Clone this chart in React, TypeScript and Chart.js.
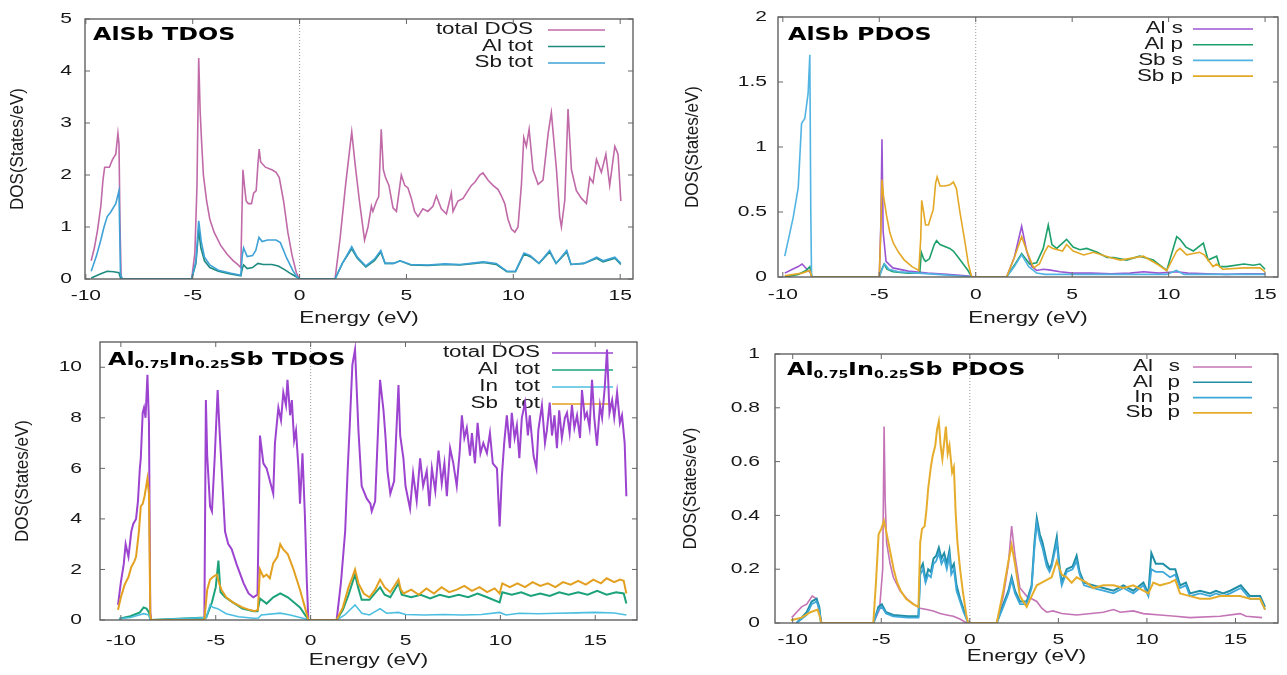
import React, { useEffect, useRef } from 'react';
import { Chart, registerables } from 'chart.js';
Chart.register(...registerables);

type Pt = [number, number];

// ---------------- tick values ----------------
const xTicks = [-10, -5, 0, 5, 10, 15];
const yTicksTdosAlSb = [0, 1, 2, 3, 4, 5];
const yTicksPdosAlSb = [0, 0.5, 1, 1.5, 2];
const yTicksTdosAlInSb = [0, 2, 4, 6, 8, 10];
const yTicksPdosAlInSb = [0, 0.2, 0.4, 0.6, 0.8, 1];

// ---------------- legend labels ----------------
const legendTdosAlSb = ['total DOS', 'Al tot', 'Sb tot'];
const legendPdosAlSb = ['Al s', 'Al p', 'Sb s', 'Sb p'];
const legendTdosAlInSb: [string, string][] = [['total DOS', ''], ['Al', 'tot'], ['In', 'tot'], ['Sb', 'tot']];
const legendPdosAlInSb: [string, string][] = [['Al', 's'], ['Al', 'p'], ['In', 'p'], ['Sb', 'p']];

// ---------------- AlSb TDOS ----------------
const alsbTotal: Pt[] = [
  [-9.75, 0.35], [-9.6, 0.6], [-9.45, 0.95], [-9.3, 1.4], [-9.2, 1.9], [-9.12, 2.15], [-8.9, 2.15], [-8.75, 2.3], [-8.6, 2.4], [-8.5, 2.8], [-8.45, 2.6], [-8.4, 1.0], [-8.35, 0.05], [-8.3, 0],
  [-5.05, 0], [-4.9, 0.5], [-4.8, 1.8], [-4.72, 4.25], [-4.65, 3.2], [-4.58, 2.6], [-4.5, 2.0], [-4.35, 1.5], [-4.2, 1.15], [-4.0, 0.9], [-3.7, 0.65], [-3.4, 0.48], [-3.1, 0.35], [-2.9, 0.28], [-2.75, 0.22], [-2.7, 1.2], [-2.65, 2.1], [-2.58, 1.8], [-2.5, 1.5], [-2.4, 1.45], [-2.25, 1.45], [-2.15, 1.65], [-2.03, 1.7], [-1.95, 2.2], [-1.89, 2.5], [-1.82, 2.25], [-1.6, 2.15], [-1.3, 2.1], [-1.1, 2.05], [-0.95, 1.95], [-0.75, 1.5], [-0.55, 0.9], [-0.35, 0.45], [-0.15, 0.12], [0, 0],
  [1.66, 0], [1.9, 0.8], [2.15, 1.8], [2.44, 2.83], [2.6, 2.2], [2.8, 1.5], [3.04, 0.75], [3.2, 1.0], [3.36, 1.4], [3.43, 1.3], [3.6, 1.5], [3.7, 1.58], [3.82, 2.88], [3.92, 2.1], [4.02, 1.95], [4.18, 1.8], [4.37, 1.37], [4.53, 1.3], [4.76, 2.0], [4.92, 1.8], [5.07, 1.75], [5.23, 1.55], [5.38, 1.3], [5.54, 1.2], [5.77, 1.35], [6.0, 1.3], [6.24, 1.4], [6.4, 1.6], [6.63, 1.35], [6.87, 1.25], [7.1, 1.65], [7.18, 1.3], [7.41, 1.5], [7.65, 1.55], [7.88, 1.7], [8.04, 1.8], [8.2, 1.86], [8.43, 2.0], [8.58, 2.04], [8.82, 1.9], [9.05, 1.8], [9.29, 1.72], [9.44, 1.6], [9.6, 1.45], [9.75, 1.15], [9.91, 0.96], [10.07, 0.9], [10.22, 1.0], [10.38, 1.82], [10.49, 2.72], [10.61, 2.55], [10.74, 2.88], [10.92, 2.1], [11.16, 1.82], [11.39, 1.9], [11.63, 2.8], [11.78, 3.2], [12.02, 2.1], [12.17, 1.2], [12.25, 1.0], [12.41, 1.52], [12.56, 3.27], [12.72, 2.1], [12.95, 1.7], [13.19, 1.55], [13.42, 1.45], [13.58, 1.95], [13.73, 1.85], [13.89, 2.3], [14.12, 2.05], [14.33, 2.4], [14.51, 1.8], [14.75, 2.55], [14.9, 2.4], [15.03, 1.5],
];
const alsbAlTot: Pt[] = [
  [-9.75, 0.02], [-9.3, 0.1], [-9.0, 0.15], [-8.7, 0.14], [-8.45, 0.12], [-8.38, 0.02], [-8.3, 0],
  [-5.05, 0], [-4.85, 0.3], [-4.72, 0.95], [-4.62, 0.6], [-4.45, 0.35], [-4.2, 0.22], [-3.8, 0.15], [-3.3, 0.1], [-2.75, 0.06], [-2.68, 0.2], [-2.62, 0.27], [-2.45, 0.2], [-2.2, 0.22], [-1.95, 0.3], [-1.7, 0.28], [-1.3, 0.28], [-1.0, 0.25], [-0.7, 0.18], [-0.4, 0.1], [-0.1, 0.03], [0, 0],
  [1.66, 0], [2.0, 0.3], [2.44, 0.58], [2.7, 0.4], [3.1, 0.23], [3.5, 0.35], [3.8, 0.52], [4.0, 0.3], [4.4, 0.3], [4.7, 0.35], [5.2, 0.27], [6.0, 0.26], [6.8, 0.28], [7.5, 0.27], [8.2, 0.3], [8.6, 0.32], [9.2, 0.28], [9.7, 0.14], [10.1, 0.14], [10.5, 0.48], [10.8, 0.43], [11.2, 0.3], [11.7, 0.52], [12.0, 0.3], [12.5, 0.52], [12.7, 0.28], [13.3, 0.3], [13.9, 0.4], [14.2, 0.33], [14.75, 0.4], [15.03, 0.28],
];
const alsbSbTot: Pt[] = [
  [-9.75, 0.15], [-9.5, 0.45], [-9.3, 0.75], [-9.15, 1.0], [-9.0, 1.2], [-8.85, 1.28], [-8.6, 1.45], [-8.45, 1.7], [-8.38, 0.1], [-8.3, 0],
  [-5.05, 0], [-4.85, 0.35], [-4.72, 1.12], [-4.6, 0.72], [-4.45, 0.42], [-4.2, 0.27], [-3.8, 0.17], [-3.2, 0.11], [-2.75, 0.07], [-2.68, 0.45], [-2.62, 0.6], [-2.45, 0.43], [-2.2, 0.45], [-2.05, 0.55], [-1.9, 0.8], [-1.75, 0.72], [-1.5, 0.75], [-1.1, 0.75], [-0.9, 0.7], [-0.6, 0.4], [-0.3, 0.15], [-0.1, 0.03], [0, 0],
  [1.66, 0], [2.0, 0.3], [2.44, 0.62], [2.7, 0.42], [3.1, 0.25], [3.5, 0.38], [3.8, 0.55], [4.0, 0.3], [4.4, 0.3], [4.7, 0.35], [5.2, 0.28], [6.0, 0.27], [6.8, 0.29], [7.5, 0.28], [8.2, 0.31], [8.6, 0.33], [9.2, 0.3], [9.7, 0.15], [10.1, 0.15], [10.5, 0.5], [10.8, 0.45], [11.2, 0.3], [11.7, 0.55], [12.0, 0.3], [12.5, 0.55], [12.7, 0.28], [13.3, 0.3], [13.9, 0.42], [14.2, 0.35], [14.75, 0.42], [15.03, 0.3],
];

// ---------------- AlSb PDOS ----------------
const alsbAlS: Pt[] = [
  [-9.9, 0.03], [-9.5, 0.06], [-9.2, 0.08], [-9.0, 0.1], [-8.75, 0.06], [-8.55, 0.03], [-8.5, 0],
  [-5.0, 0], [-4.92, 0.4], [-4.86, 1.06], [-4.8, 0.35], [-4.65, 0.12], [-4.3, 0.07], [-3.5, 0.045], [-2.5, 0.03], [-1.5, 0.02], [-0.5, 0.01], [0, 0],
  [1.6, 0], [2.0, 0.15], [2.38, 0.39], [2.64, 0.2], [2.9, 0.08], [3.16, 0.05], [3.5, 0.06], [3.8, 0.055], [4.37, 0.04], [5.0, 0.03], [6.0, 0.03], [7.0, 0.025], [8.0, 0.03], [8.7, 0.04], [9.5, 0.03], [10.4, 0.04], [11.0, 0.03], [12.0, 0.025], [13.0, 0.02], [14.0, 0.025], [15.0, 0.025],
];
const alsbAlP: Pt[] = [
  [-9.9, 0], [-9.2, 0.02], [-8.8, 0.05], [-8.6, 0.08], [-8.52, 0.02], [-8.5, 0],
  [-5.0, 0], [-4.9, 0.05], [-4.75, 0.1], [-4.6, 0.06], [-4.3, 0.04], [-3.5, 0.03], [-2.9, 0.03], [-2.82, 0.19], [-2.7, 0.14], [-2.6, 0.12], [-2.4, 0.14], [-2.15, 0.25], [-2.03, 0.28], [-1.85, 0.25], [-1.35, 0.22], [-1.16, 0.2], [-0.9, 0.15], [-0.65, 0.1], [-0.4, 0.05], [-0.2, 0],
  [1.6, 0], [2.0, 0.09], [2.38, 0.18], [2.8, 0.1], [3.16, 0.11], [3.5, 0.22], [3.76, 0.4], [3.95, 0.25], [4.2, 0.22], [4.71, 0.29], [5.05, 0.23], [5.4, 0.21], [5.75, 0.22], [6.3, 0.19], [6.8, 0.15], [7.15, 0.15], [7.82, 0.13], [8.5, 0.16], [9.2, 0.13], [9.9, 0.05], [10.42, 0.31], [10.59, 0.29], [10.9, 0.23], [11.28, 0.2], [11.8, 0.26], [12.05, 0.13], [12.49, 0.16], [12.65, 0.08], [13.0, 0.08], [13.9, 0.1], [14.4, 0.09], [14.74, 0.1], [15.0, 0.06],
];
const alsbSbS: Pt[] = [
  [-9.9, 0.16], [-9.65, 0.33], [-9.46, 0.46], [-9.2, 0.69], [-9.03, 1.18], [-8.86, 1.22], [-8.69, 1.41], [-8.6, 1.71], [-8.55, 0.5], [-8.51, 0],
  [-5.0, 0], [-4.85, 0.06], [-4.72, 0.1], [-4.5, 0.06], [-4.0, 0.04], [-3.0, 0.03], [-2.0, 0.02], [-1.0, 0.01], [0, 0],
  [1.6, 0], [2.0, 0.08], [2.38, 0.17], [2.75, 0.08], [3.16, 0.03], [3.6, 0.02], [5, 0.02], [7, 0.02], [9, 0.02], [9.9, 0.02], [10.4, 0.05], [10.8, 0.02], [12.5, 0.02], [15, 0.02],
];
const alsbSbP: Pt[] = [
  [-9.9, 0.01], [-9.0, 0.03], [-8.6, 0.05], [-8.5, 0],
  [-5.0, 0], [-4.92, 0.35], [-4.86, 0.75], [-4.78, 0.62], [-4.62, 0.47], [-4.45, 0.34], [-4.27, 0.26], [-4.0, 0.19], [-3.7, 0.13], [-3.3, 0.08], [-2.95, 0.05], [-2.85, 0.3], [-2.8, 0.59], [-2.7, 0.5], [-2.6, 0.4], [-2.45, 0.4], [-2.37, 0.44], [-2.2, 0.52], [-2.08, 0.72], [-2.0, 0.77], [-1.85, 0.7], [-1.6, 0.7], [-1.33, 0.71], [-1.16, 0.73], [-1.0, 0.68], [-0.82, 0.5], [-0.56, 0.27], [-0.38, 0.1], [-0.21, 0],
  [1.6, 0], [2.0, 0.15], [2.38, 0.31], [2.7, 0.18], [3.0, 0.07], [3.3, 0.1], [3.6, 0.2], [3.76, 0.24], [4.0, 0.22], [4.5, 0.2], [4.71, 0.25], [5.05, 0.2], [5.6, 0.17], [6.1, 0.19], [6.96, 0.15], [7.5, 0.13], [8.69, 0.16], [9.4, 0.1], [9.9, 0.05], [10.42, 0.2], [10.59, 0.22], [10.94, 0.17], [11.6, 0.19], [11.85, 0.17], [12.3, 0.08], [12.49, 0.1], [12.8, 0.06], [13.9, 0.07], [14.74, 0.07], [15.0, 0.04],
];

// ---------------- Al0.75In0.25Sb TDOS ----------------
const alinTotal: Pt[] = [
  [-10.15, 0.6], [-10.0, 1.5], [-9.85, 2.2], [-9.75, 3.0], [-9.6, 2.5], [-9.45, 3.5], [-9.35, 3.8], [-9.2, 4.0], [-9.1, 4.7], [-9.0, 6.0], [-8.95, 6.4], [-8.85, 8.2], [-8.78, 8.4], [-8.7, 8.0], [-8.6, 9.7], [-8.52, 7.8], [-8.45, 0.3], [-8.4, 0],
  [-5.6, 0], [-5.52, 8.7], [-5.45, 6.5], [-5.3, 4.5], [-5.2, 4.3], [-5.05, 6.5], [-4.9, 9.1], [-4.8, 7.5], [-4.69, 6.0], [-4.51, 3.5], [-4.34, 3.0], [-4.16, 2.8], [-3.9, 2.2], [-3.53, 1.45], [-3.27, 1.05], [-3.02, 0.9], [-2.8, 1.0], [-2.67, 7.3], [-2.49, 6.2], [-2.32, 6.0], [-2.11, 5.4], [-1.97, 5.0], [-1.88, 7.0], [-1.7, 8.4], [-1.56, 7.9], [-1.44, 9.0], [-1.3, 8.5], [-1.22, 9.5], [-1.08, 8.1], [-0.99, 8.7], [-0.87, 7.1], [-0.77, 7.5], [-0.64, 6.0], [-0.56, 4.6], [-0.43, 6.6], [-0.3, 4.1], [-0.2, 1.5], [-0.12, 0],
  [1.37, 0], [1.6, 1.5], [1.82, 3.5], [1.95, 5.9], [2.05, 7.5], [2.2, 10.1], [2.34, 10.7], [2.52, 7.5], [2.69, 5.3], [2.96, 4.8], [3.15, 4.6], [3.22, 4.3], [3.4, 4.7], [3.66, 9.5], [3.84, 8.3], [3.95, 7.2], [4.05, 5.9], [4.2, 5.0], [4.4, 5.5], [4.63, 9.3], [4.72, 7.3], [4.89, 6.4], [5.0, 5.3], [5.16, 4.7], [5.24, 4.4], [5.4, 5.8], [5.59, 4.7], [5.77, 6.4], [5.93, 5.3], [6.12, 5.9], [6.26, 4.5], [6.39, 6.0], [6.57, 5.1], [6.74, 6.7], [6.91, 5.4], [7.05, 6.2], [7.18, 4.9], [7.35, 6.8], [7.52, 6.2], [7.7, 5.3], [7.85, 6.6], [7.97, 8.1], [8.1, 7.2], [8.23, 7.6], [8.4, 6.5], [8.5, 7.4], [8.66, 6.2], [8.8, 7.8], [8.95, 6.6], [9.1, 7.0], [9.29, 6.6], [9.45, 7.4], [9.6, 6.2], [9.82, 6.0], [9.96, 3.7], [10.08, 5.7], [10.2, 7.0], [10.34, 8.1], [10.5, 6.8], [10.6, 8.2], [10.75, 7.2], [10.87, 7.7], [11.0, 6.4], [11.13, 8.0], [11.3, 8.6], [11.45, 7.3], [11.55, 8.1], [11.75, 6.5], [11.9, 6.0], [12.0, 7.5], [12.19, 8.5], [12.35, 7.0], [12.45, 7.5], [12.6, 8.6], [12.72, 7.3], [12.85, 8.1], [12.98, 6.8], [13.1, 8.3], [13.24, 7.2], [13.4, 8.0], [13.51, 8.2], [13.65, 7.4], [13.77, 8.5], [13.9, 7.6], [14.04, 8.1], [14.2, 7.2], [14.3, 9.1], [14.45, 8.0], [14.56, 8.2], [14.7, 7.6], [14.83, 9.5], [14.95, 8.0], [15.09, 6.9], [15.25, 8.5], [15.36, 8.0], [15.5, 9.2], [15.62, 10.7], [15.75, 8.2], [15.89, 8.7], [16.0, 8.0], [16.15, 9.0], [16.3, 7.8], [16.41, 8.1], [16.55, 7.0], [16.64, 4.9],
];
const alinAlTot: Pt[] = [
  [-10.1, 0.05], [-9.5, 0.15], [-9.0, 0.3], [-8.8, 0.5], [-8.65, 0.45], [-8.52, 0.3], [-8.45, 0],
  [-5.5, 0.1], [-5.2, 0.7], [-5.0, 1.3], [-4.86, 2.35], [-4.75, 1.1], [-4.5, 0.9], [-4.1, 0.7], [-3.6, 0.45], [-3.0, 0.35], [-2.8, 0.35], [-2.67, 0.85], [-2.32, 0.65], [-1.97, 0.9], [-1.6, 1.05], [-1.2, 0.9], [-0.56, 0.5], [-0.2, 0.1], [-0.12, 0],
  [1.37, 0], [1.7, 0.4], [2.0, 1.0], [2.34, 1.8], [2.5, 1.3], [2.69, 0.8], [3.1, 0.8], [3.66, 1.3], [3.9, 1.0], [4.2, 0.9], [4.63, 1.45], [4.8, 1.0], [5.3, 0.9], [5.8, 1.0], [6.3, 0.85], [6.8, 1.0], [7.3, 0.9], [7.8, 1.0], [8.3, 0.9], [8.8, 1.05], [9.3, 0.9], [9.96, 0.7], [10.1, 1.1], [10.6, 1.0], [11.1, 1.1], [11.6, 0.95], [12.1, 1.05], [12.6, 0.95], [13.1, 1.1], [13.6, 1.0], [14.1, 1.1], [14.6, 1.0], [15.1, 1.15], [15.6, 1.0], [16.1, 1.1], [16.5, 1.05], [16.64, 0.65],
];
const alinInTot: Pt[] = [
  [-10.1, 0.05], [-9.5, 0.1], [-8.8, 0.25], [-8.52, 0.2], [-8.45, 0],
  [-5.5, 0.1], [-5.3, 0.6], [-5.15, 0.5], [-4.9, 0.45], [-4.45, 0.25], [-3.8, 0.13], [-3.0, 0.07], [-2.75, 0.08], [-2.6, 0.2], [-1.6, 0.27], [-1.08, 0.2], [-0.3, 0.05], [-0.12, 0],
  [1.37, 0], [1.8, 0.2], [2.34, 0.6], [2.7, 0.27], [3.1, 0.2], [3.66, 0.45], [4.0, 0.27], [4.63, 0.3], [5.0, 0.22], [6.0, 0.2], [7.0, 0.22], [8.0, 0.2], [9.0, 0.22], [9.96, 0.3], [10.3, 0.2], [11.0, 0.27], [12.0, 0.25], [13.0, 0.27], [14.0, 0.28], [15.0, 0.3], [16.0, 0.28], [16.64, 0.2],
];
const alinSbTot: Pt[] = [
  [-10.15, 0.4], [-10.0, 0.9], [-9.8, 1.4], [-9.6, 1.7], [-9.45, 2.1], [-9.3, 2.3], [-9.2, 2.5], [-9.05, 3.5], [-8.95, 4.5], [-8.85, 4.6], [-8.75, 4.9], [-8.6, 5.6], [-8.52, 5.0], [-8.45, 0.2], [-8.4, 0],
  [-5.6, 0], [-5.45, 1.2], [-5.3, 1.6], [-5.15, 1.7], [-4.95, 1.8], [-4.8, 1.4], [-4.7, 1.2], [-4.45, 0.9], [-4.1, 0.7], [-3.6, 0.5], [-3.3, 0.42], [-2.95, 0.35], [-2.78, 0.4], [-2.67, 2.0], [-2.49, 1.7], [-2.32, 1.8], [-2.15, 1.65], [-1.97, 2.25], [-1.75, 2.5], [-1.6, 3.0], [-1.45, 2.8], [-1.2, 2.6], [-0.9, 2.0], [-0.56, 1.2], [-0.3, 0.5], [-0.12, 0],
  [1.37, 0], [1.7, 0.5], [2.0, 1.3], [2.2, 1.7], [2.34, 2.0], [2.52, 1.45], [2.8, 1.05], [3.1, 0.9], [3.4, 1.2], [3.66, 1.6], [3.9, 1.3], [4.2, 1.1], [4.63, 1.6], [4.75, 1.2], [4.9, 1.05], [5.3, 1.2], [5.7, 1.0], [6.1, 1.25], [6.5, 1.05], [6.9, 1.3], [7.3, 1.1], [7.7, 1.2], [8.1, 1.35], [8.5, 1.15], [8.9, 1.3], [9.3, 1.1], [9.7, 1.25], [9.96, 1.05], [10.1, 1.45], [10.5, 1.3], [10.9, 1.45], [11.3, 1.3], [11.7, 1.5], [12.1, 1.35], [12.5, 1.45], [12.9, 1.3], [13.3, 1.5], [13.7, 1.4], [14.1, 1.55], [14.5, 1.4], [14.9, 1.6], [15.3, 1.45], [15.6, 1.65], [16.0, 1.5], [16.3, 1.6], [16.5, 1.55], [16.64, 1.05],
];

// ---------------- Al0.75In0.25Sb PDOS ----------------
const alinAlS: Pt[] = [
  [-10.06, 0.02], [-9.78, 0.04], [-9.5, 0.06], [-9.21, 0.07], [-8.9, 0.1], [-8.65, 0.09], [-8.46, 0.03], [-8.36, 0],
  [-5.44, 0], [-5.1, 0.05], [-4.92, 0.2], [-4.84, 0.73], [-4.78, 0.46], [-4.7, 0.3], [-4.5, 0.22], [-4.32, 0.17], [-3.94, 0.12], [-3.55, 0.09], [-3.18, 0.07], [-2.81, 0.055], [-2.43, 0.05], [-2.06, 0.045], [-1.68, 0.035], [-1.31, 0.03], [-0.93, 0.025], [-0.56, 0.015], [-0.18, 0],
  [1.52, 0], [1.89, 0.1], [2.18, 0.22], [2.36, 0.36], [2.55, 0.25], [2.83, 0.13], [3.21, 0.1], [3.49, 0.09], [3.78, 0.08], [4.06, 0.055], [4.34, 0.04], [4.7, 0.045], [5.19, 0.035], [6.03, 0.03], [7.54, 0.04], [8.11, 0.05], [8.5, 0.04], [9.23, 0.045], [9.8, 0.035], [10.74, 0.03], [11.6, 0.025], [12.43, 0.02], [14.13, 0.025], [15.26, 0.035], [15.6, 0.025], [16.5, 0.02],
];
const alinAlP: Pt[] = [
  [-9.78, 0], [-9.21, 0.04], [-8.93, 0.08], [-8.65, 0.09], [-8.5, 0.06], [-8.4, 0],
  [-5.44, 0], [-5.16, 0.06], [-4.97, 0.07], [-4.73, 0.04], [-4.32, 0.03], [-3.5, 0.025], [-2.9, 0.025], [-2.8, 0.2], [-2.65, 0.22], [-2.5, 0.16], [-2.35, 0.2], [-2.2, 0.19], [-2.05, 0.24], [-1.9, 0.25], [-1.75, 0.28], [-1.6, 0.24], [-1.45, 0.26], [-1.3, 0.22], [-1.15, 0.27], [-1.05, 0.2], [-0.9, 0.22], [-0.75, 0.14], [-0.55, 0.09], [-0.35, 0.05], [-0.15, 0.01], [-0.1, 0],
  [1.52, 0], [1.89, 0.07], [2.18, 0.12], [2.36, 0.17], [2.55, 0.12], [2.83, 0.08], [3.21, 0.08], [3.49, 0.14], [3.65, 0.3], [3.78, 0.39], [3.95, 0.33], [4.1, 0.3], [4.34, 0.23], [4.5, 0.2], [4.62, 0.22], [4.91, 0.32], [5.05, 0.22], [5.19, 0.15], [5.47, 0.2], [5.8, 0.21], [6.03, 0.25], [6.2, 0.19], [6.45, 0.15], [6.98, 0.14], [7.54, 0.13], [8.11, 0.12], [8.67, 0.14], [9.23, 0.12], [9.8, 0.15], [10.08, 0.11], [10.25, 0.26], [10.5, 0.22], [10.9, 0.22], [11.3, 0.2], [11.6, 0.2], [11.87, 0.14], [12.2, 0.15], [12.43, 0.11], [13.0, 0.12], [13.56, 0.11], [13.9, 0.12], [14.3, 0.11], [14.7, 0.12], [15.3, 0.14], [15.82, 0.1], [16.39, 0.1], [16.67, 0.06],
];
const alinInP: Pt[] = [
  [-9.78, 0], [-9.21, 0.03], [-8.93, 0.07], [-8.65, 0.08], [-8.5, 0.05], [-8.4, 0],
  [-5.44, 0], [-5.16, 0.05], [-4.97, 0.06], [-4.73, 0.035], [-4.32, 0.025], [-3.5, 0.02], [-2.9, 0.02], [-2.8, 0.18], [-2.65, 0.2], [-2.5, 0.15], [-2.35, 0.18], [-2.2, 0.17], [-2.05, 0.22], [-1.9, 0.23], [-1.75, 0.26], [-1.6, 0.22], [-1.45, 0.24], [-1.3, 0.2], [-1.15, 0.25], [-1.05, 0.18], [-0.9, 0.2], [-0.75, 0.12], [-0.55, 0.08], [-0.35, 0.04], [-0.15, 0.01], [-0.1, 0],
  [1.52, 0], [1.89, 0.06], [2.18, 0.11], [2.36, 0.16], [2.55, 0.11], [2.83, 0.07], [3.21, 0.07], [3.49, 0.13], [3.65, 0.28], [3.78, 0.37], [3.95, 0.31], [4.1, 0.28], [4.34, 0.21], [4.5, 0.19], [4.62, 0.21], [4.91, 0.3], [5.05, 0.2], [5.19, 0.14], [5.47, 0.19], [5.8, 0.2], [6.03, 0.23], [6.2, 0.18], [6.45, 0.14], [6.98, 0.13], [7.54, 0.12], [8.11, 0.11], [8.67, 0.13], [9.23, 0.11], [9.8, 0.14], [10.08, 0.1], [10.25, 0.2], [10.5, 0.19], [10.9, 0.19], [11.3, 0.17], [11.6, 0.18], [11.87, 0.13], [12.2, 0.14], [12.43, 0.1], [13.0, 0.11], [13.56, 0.1], [13.9, 0.11], [14.3, 0.1], [14.7, 0.11], [15.3, 0.13], [15.82, 0.09], [16.39, 0.09], [16.67, 0.05],
];
const alinSbP: Pt[] = [
  [-10.1, 0.01], [-9.5, 0.02], [-9.0, 0.04], [-8.6, 0.05], [-8.45, 0.02], [-8.4, 0],
  [-5.45, 0], [-5.3, 0.15], [-5.15, 0.33], [-5.0, 0.35], [-4.85, 0.38], [-4.75, 0.35], [-4.6, 0.3], [-4.45, 0.25], [-4.3, 0.2], [-4.1, 0.15], [-3.9, 0.12], [-3.6, 0.09], [-3.2, 0.07], [-2.9, 0.06], [-2.8, 0.3], [-2.7, 0.35], [-2.55, 0.36], [-2.45, 0.42], [-2.35, 0.5], [-2.2, 0.58], [-2.1, 0.62], [-1.95, 0.66], [-1.85, 0.72], [-1.75, 0.75], [-1.65, 0.66], [-1.55, 0.61], [-1.45, 0.67], [-1.35, 0.73], [-1.25, 0.63], [-1.15, 0.66], [-1.0, 0.56], [-0.9, 0.58], [-0.8, 0.41], [-0.7, 0.3], [-0.55, 0.2], [-0.4, 0.12], [-0.2, 0.03], [-0.1, 0],
  [1.52, 0], [1.89, 0.12], [2.18, 0.23], [2.36, 0.29], [2.55, 0.22], [2.83, 0.1], [3.21, 0.06], [3.49, 0.1], [3.78, 0.14], [4.06, 0.15], [4.34, 0.16], [4.62, 0.17], [4.91, 0.23], [5.19, 0.18], [5.47, 0.17], [5.75, 0.15], [6.03, 0.17], [6.6, 0.15], [6.98, 0.13], [7.54, 0.14], [8.11, 0.14], [8.67, 0.13], [9.23, 0.14], [9.8, 0.12], [10.08, 0.11], [10.36, 0.15], [10.74, 0.14], [11.3, 0.15], [11.6, 0.16], [11.87, 0.11], [12.43, 0.1], [13.0, 0.09], [13.56, 0.09], [14.13, 0.1], [14.69, 0.1], [15.26, 0.1], [15.82, 0.09], [16.39, 0.09], [16.67, 0.05],
];

// ---------------- layout / styling ----------------
const W = 1287;
const H = 675;
const SX = 1.4; // horizontal text stretch
const FONT = "'Liberation Sans', Arial, sans-serif";
const BOLD = "'DejaVu Sans', Verdana, sans-serif";

type Series = { data: Pt[]; color: string; width?: number };
type Run = { t: string; sub?: boolean };
type PanelCfg = {
  area: { l: number; t: number; r: number; b: number };
  xMin: number; xMax: number; yMax: number;
  yTicks: number[];
  series: Series[];
  legend: (string | [string, string])[];
  title: Run[];
  titleDx: number; titleDy: number;
  legTextR: number; legNameR: number; legLine0: number; legLine1: number; legRow0: number; legDy: number;
  xLabelDy: number; yLabelGap: number; xTitleDy: number; yTitleDx: number;
};

const panels: PanelCfg[] = [
  {
    area: { l: 85, t: 19, r: 633, b: 279 }, xMin: -10.04, xMax: 15.6, yMax: 5, yTicks: yTicksTdosAlSb,
    series: [
      { data: alsbTotal, color: '#c06aa8' },
      { data: alsbAlTot, color: '#1f8a80' },
      { data: alsbSbTot, color: '#3ea2d6' },
    ],
    legend: legendTdosAlSb,
    title: [{ t: 'AlSb TDOS' }], titleDx: 8, titleDy: 21,
    legTextR: 100, legNameR: 0, legLine0: 85, legLine1: 28, legRow0: 11, legDy: 16.5,
    xLabelDy: 17, yLabelGap: 13, xTitleDy: 40, yTitleDx: 67,
  },
  {
    area: { l: 778, t: 17, r: 1278, b: 277 }, xMin: -10.25, xMax: 15.67, yMax: 2, yTicks: yTicksPdosAlSb,
    series: [
      { data: alsbAlS, color: '#9b55d2' },
      { data: alsbAlP, color: '#1ea06c' },
      { data: alsbSbS, color: '#52b4e2' },
      { data: alsbSbP, color: '#e3a826' },
    ],
    legend: legendPdosAlSb,
    title: [{ t: 'AlSb PDOS' }], titleDx: 10, titleDy: 23,
    legTextR: 95, legNameR: 0, legLine0: 85, legLine1: 25, legRow0: 12, legDy: 15.7,
    xLabelDy: 18, yLabelGap: 11, xTitleDy: 42, yTitleDx: 85,
  },
  {
    area: { l: 100, t: 342, r: 637, b: 620 }, xMin: -11.1, xMax: 17.2, yMax: 11, yTicks: yTicksTdosAlInSb,
    series: [
      { data: alinTotal, color: '#9c44d0', width: 2 },
      { data: alinAlTot, color: '#1ca27a', width: 2 },
      { data: alinInTot, color: '#4cbfe0', width: 1.6 },
      { data: alinSbTot, color: '#e3a020', width: 2 },
    ],
    legend: legendTdosAlInSb,
    title: [{ t: 'Al' }, { t: '0.75', sub: true }, { t: 'In' }, { t: '0.25', sub: true }, { t: 'Sb TDOS' }], titleDx: 8, titleDy: 23,
    legTextR: 97, legNameR: 139, legLine0: 85, legLine1: 24, legRow0: 11, legDy: 17,
    xLabelDy: 21, yLabelGap: 18, xTitleDy: 41, yTitleDx: 77,
  },
  {
    area: { l: 775, t: 354, r: 1278, b: 623 }, xMin: -11, xMax: 17.4, yMax: 1, yTicks: yTicksPdosAlInSb,
    series: [
      { data: alinAlS, color: '#c474b6', width: 1.6 },
      { data: alinAlP, color: '#1f8ea6', width: 2 },
      { data: alinInP, color: '#3ea8da', width: 1.8 },
      { data: alinSbP, color: '#e6ad2c', width: 2 },
    ],
    legend: legendPdosAlInSb,
    title: [{ t: 'Al' }, { t: '0.75', sub: true }, { t: 'In' }, { t: '0.25', sub: true }, { t: 'Sb PDOS' }], titleDx: 12, titleDy: 21,
    legTextR: 98, legNameR: 125, legLine0: 85, legLine1: 26, legRow0: 13, legDy: 15.3,
    xLabelDy: 17, yLabelGap: 15, xTitleDy: 34, yTitleDx: 84,
  },
];

function stretchText(ctx: CanvasRenderingContext2D, text: string, x: number, y: number, align: CanvasTextAlign, font: string, color: string) {
  ctx.save();
  ctx.font = font;
  ctx.fillStyle = color;
  ctx.textAlign = align;
  ctx.textBaseline = 'middle';
  ctx.translate(x, y);
  ctx.scale(SX, 1);
  ctx.fillText(text, 0, 0);
  ctx.restore();
}

function makePlugin(cfg: PanelCfg) {
  return {
    id: 'gnuplotDeco',
    beforeDatasetsDraw(chart: any) {
      const { ctx, chartArea: a, scales } = chart;
      const x = scales.x;
      const x0 = x.getPixelForValue(0);
      ctx.save();
      ctx.strokeStyle = '#9a9a9a';
      ctx.lineWidth = 1;
      ctx.setLineDash([1, 2]);
      ctx.beginPath();
      ctx.moveTo(x0, a.top);
      ctx.lineTo(x0, a.bottom);
      ctx.stroke();
      ctx.restore();
      cfg.legend.forEach((entry, i) => {
        const yy = a.top + cfg.legRow0 + i * cfg.legDy;
        const f = `16px ${FONT}`;
        if (Array.isArray(entry)) {
          if (entry[1]) {
            stretchText(ctx, entry[0], a.right - cfg.legNameR, yy, 'right', f, '#1a1a1a');
            stretchText(ctx, entry[1], a.right - cfg.legTextR, yy, 'right', f, '#1a1a1a');
          } else {
            stretchText(ctx, entry[0], a.right - cfg.legTextR, yy, 'right', f, '#1a1a1a');
          }
        } else {
          stretchText(ctx, entry, a.right - cfg.legTextR, yy, 'right', f, '#1a1a1a');
        }
        const s = cfg.series[i];
        ctx.save();
        ctx.strokeStyle = s.color;
        ctx.lineWidth = 1.6;
        ctx.beginPath();
        ctx.moveTo(a.right - cfg.legLine0, yy);
        ctx.lineTo(a.right - cfg.legLine1, yy);
        ctx.stroke();
        ctx.restore();
      });
    },
    afterDatasetsDraw(chart: any) {
      const { ctx, chartArea: a, scales } = chart;
      const x = scales.x;
      const y = scales.y;
      ctx.save();
      ctx.strokeStyle = '#555';
      ctx.lineWidth = 1.3;
      ctx.strokeRect(a.left, a.top, a.right - a.left, a.bottom - a.top);
      ctx.lineWidth = 1;
      ctx.strokeStyle = '#666';
      const tl = 5;
      ctx.beginPath();
      xTicks.forEach((v) => {
        const px = x.getPixelForValue(v);
        if (px < a.left - 1 || px > a.right + 1) return;
        ctx.moveTo(px, a.bottom); ctx.lineTo(px, a.bottom - tl);
        ctx.moveTo(px, a.top); ctx.lineTo(px, a.top + tl);
      });
      cfg.yTicks.forEach((v) => {
        const py = y.getPixelForValue(v);
        ctx.moveTo(a.left, py); ctx.lineTo(a.left + tl, py);
        ctx.moveTo(a.right, py); ctx.lineTo(a.right - tl, py);
      });
      ctx.stroke();
      ctx.restore();
      const tf = `15px ${FONT}`;
      xTicks.forEach((v) => {
        const px = x.getPixelForValue(v);
        stretchText(ctx, String(v), px, a.bottom + cfg.xLabelDy, 'center', tf, '#161616');
      });
      cfg.yTicks.forEach((v) => {
        const py = y.getPixelForValue(v);
        stretchText(ctx, String(v), a.left - cfg.yLabelGap, py, 'right', tf, '#161616');
      });
      stretchText(ctx, 'Energy (eV)', (a.left + a.right) / 2, a.bottom + cfg.xTitleDy, 'center', `16px ${FONT}`, '#1a1a1a');
      ctx.save();
      ctx.translate(a.left - cfg.yTitleDx, (a.top + a.bottom) / 2);
      ctx.rotate(-Math.PI / 2);
      ctx.scale(1, 1.05);
      ctx.font = `17px ${FONT}`;
      ctx.fillStyle = '#1a1a1a';
      ctx.textAlign = 'center';
      ctx.textBaseline = 'middle';
      ctx.fillText('DOS(States/eV)', 0, 0);
      ctx.restore();
      ctx.save();
      let cx = a.left + cfg.titleDx;
      const base = a.top + cfg.titleDy;
      cfg.title.forEach((r) => {
        ctx.font = r.sub ? `bold 10px ${BOLD}` : `bold 17px ${BOLD}`;
        const w = ctx.measureText(r.t).width * SX;
        ctx.save();
        ctx.translate(cx, base + (r.sub ? 3 : 0));
        ctx.scale(SX, 1);
        ctx.fillStyle = '#000';
        ctx.textAlign = 'left';
        ctx.textBaseline = 'alphabetic';
        ctx.fillText(r.t, 0, 0);
        ctx.restore();
        cx += w;
      });
      ctx.restore();
    },
  };
}

function Panel({ cfg }: { cfg: PanelCfg }) {
  const ref = useRef<HTMLCanvasElement | null>(null);
  useEffect(() => {
    if (!ref.current) return;
    const n = cfg.series.length;
    const chart = new Chart(ref.current, {
      type: 'line',
      data: {
        datasets: cfg.series.map((s, i) => ({
          data: s.data.map(([e, v]) => ({ x: e, y: v })),
          borderColor: s.color,
          backgroundColor: s.color,
          borderWidth: s.width ?? 1.6,
          pointRadius: 0,
          tension: 0,
          fill: false,
          order: n - i,
        })),
      },
      options: {
        animation: false,
        responsive: false,
        events: [],
        layout: { padding: { left: cfg.area.l, top: cfg.area.t, right: W - cfg.area.r, bottom: H - cfg.area.b } },
        plugins: { legend: { display: false }, tooltip: { enabled: false }, title: { display: false } },
        scales: {
          x: { type: 'linear', min: cfg.xMin, max: cfg.xMax, display: false },
          y: { type: 'linear', min: 0, max: cfg.yMax, display: false },
        },
      },
      plugins: [makePlugin(cfg)],
    } as any);
    return () => chart.destroy();
  }, [cfg]);
  return <canvas ref={ref} width={W} height={H} style={{ position: 'absolute', left: 0, top: 0 }} />;
}

export default function App() {
  return (
    <div style={{ position: 'absolute', left: 0, top: 0, width: W, height: H, background: '#fff' }}>
      {panels.map((p, i) => (
        <Panel key={i} cfg={p} />
      ))}
    </div>
  );
}
